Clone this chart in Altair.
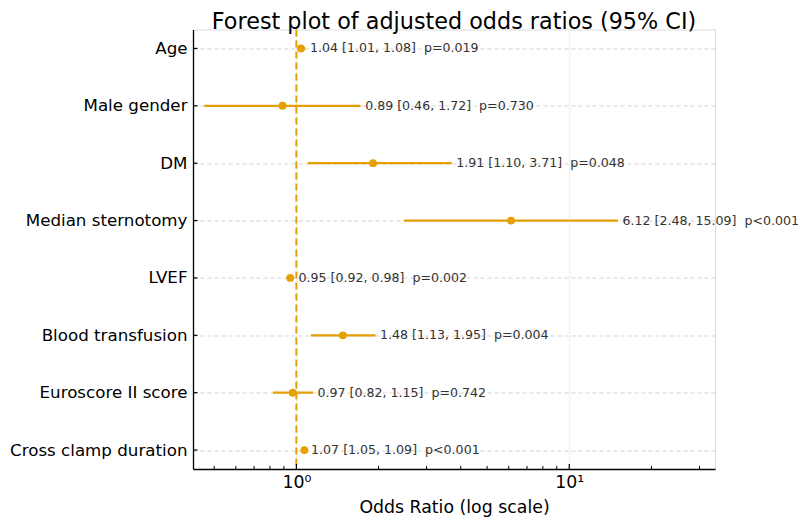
import altair as alt
import pandas as pd

names = ["Age", "Male gender", "DM", "Median sternotomy", "LVEF",
         "Blood transfusion", "Euroscore II score", "Cross clamp duration"]
or_vals = [1.04, 0.89, 1.91, 6.12, 0.95, 1.48, 0.97, 1.07]
lower = [1.01, 0.46, 1.10, 2.48, 0.92, 1.13, 0.82, 1.05]
upper = [1.08, 1.72, 3.71, 15.09, 0.98, 1.95, 1.15, 1.09]
pvals = ["p=0.019", "p=0.730", "p=0.048", "p<0.001", "p=0.002",
         "p=0.004", "p=0.742", "p<0.001"]
major_ticks = [1, 10]
minor_ticks = [0.5, 0.6, 0.7, 0.8, 0.9, 2, 3, 4, 5, 6, 7, 8, 9, 20, 30]
ref_value = [1.0]
title_text = ["Forest plot of adjusted odds ratios (95% CI)"]

labels = [f"{o:.2f} [{l:.2f}, {u:.2f}] \u00a0{p}"
          for o, l, u, p in zip(or_vals, lower, upper, pvals)]

df = pd.DataFrame({"name": names, "or": or_vals, "lower": lower,
                   "upper": upper, "label": labels})

ORANGE = "#E69F00"
W, H = 522, 439.5
FONT = "DejaVu Sans"

xs = alt.Scale(type="log", domain=[0.418, 34.2], nice=False)
xaxis = alt.Axis(values=major_ticks,
                 labelExpr="datum.value == 1 ? '10\u2070' : '10\u00b9'",
                 ticks=False, labelPadding=4, labelFontSize=17.33,
                 labelColor="black", labelFont=FONT,
                 domainColor="black", domainWidth=1.3,
                 grid=True, gridColor="#d9d9d9", gridDash=[2, 2], gridWidth=0.8,
                 title="Odds Ratio (log scale)", titleFontSize=17.33,
                 titleFontWeight="normal", titleColor="black", titleFont=FONT,
                 titlePadding=8)
ys = alt.Scale(type="point", padding=0.33, domain=names)
yaxis = alt.Axis(title=None, ticks=False, labelPadding=6, labelFontSize=16.7,
                 labelColor="black", labelFont=FONT, labelLimit=300,
                 domainColor="black", domainWidth=1.3,
                 grid=True, gridColor="#c8c8c8", gridDash=[4, 3], gridWidth=0.8)

def X(field):
    return alt.X(field, type="quantitative", scale=xs, axis=xaxis)

Y = alt.Y("name:N", scale=ys, axis=yaxis, sort=None)

ci = alt.Chart(df).mark_rule(color=ORANGE, strokeWidth=2.3).encode(
    x=X("lower"), x2="upper", y=Y)

ref = alt.Chart(pd.DataFrame({"ref": ref_value})).mark_rule(
    color=ORANGE, strokeDash=[7, 4], strokeWidth=2).encode(x=X("ref"))

pts = alt.Chart(df).mark_circle(color=ORANGE, size=62, opacity=1).encode(
    x=X("or"), y=Y)

txt = alt.Chart(df).mark_text(align="left", baseline="middle", dx=4.5,
                              fontSize=12.6, font=FONT, color="#333333").encode(
    x=X("upper"), y=Y, text="label:N")

minor = alt.Chart(pd.DataFrame({"t": minor_ticks})).mark_rule(
    color="black", strokeWidth=1).encode(
    x=X("t"), y=alt.value(H), y2=alt.value(H - 3))

major = alt.Chart(pd.DataFrame({"t": major_ticks})).mark_rule(
    color="black", strokeWidth=1.2).encode(
    x=X("t"), y=alt.value(H), y2=alt.value(H - 5))

yticks = alt.Chart(df).mark_rule(color="black", strokeWidth=1.2).encode(
    y=Y, x=alt.value(0), x2=alt.value(4.5))

title = alt.Chart(pd.DataFrame({"t": title_text})).mark_text(
    fontSize=22.3, font=FONT, color="black", align="center",
    baseline="alphabetic").encode(
    text="t:N", x=alt.value(W / 2), y=alt.value(-0.5))

chart = alt.layer(ci, ref, pts, txt, minor, major, yticks, title).properties(
    width=W, height=H,
    autosize=alt.AutoSizeParams(type="none"),
    padding={"left": 185, "top": 21.5, "right": 86, "bottom": 50},
).configure_view(stroke=None).configure(font=FONT)

chart.save("out.html", embed_options={"renderer": "svg", "actions": False})
